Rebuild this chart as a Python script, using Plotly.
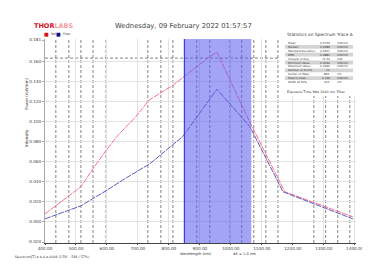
import plotly.graph_objects as go

# ---- data ----
ref_x = [400, 516, 555, 597, 635, 694, 735, 813, 926, 955, 1060, 1158, 1174, 1394]
ref_y = [0.008, 0.035, 0.053, 0.071, 0.086, 0.105, 0.121, 0.136, 0.163, 0.169, 0.100, 0.040, 0.030, 0.005]
filt_x = [400, 516, 597, 658, 739, 845, 955, 1061, 1152, 1168, 1394]
filt_y = [0.003, 0.016, 0.031, 0.043, 0.058, 0.085, 0.132, 0.095, 0.040, 0.030, 0.003]

x_ticks = [400, 500, 600, 700, 800, 900, 1000, 1100, 1200, 1300, 1400]
x_tick_labels = ["400.00", "500.00", "600.00", "700.00", "800.00", "900.00",
                 "1000.00", "1100.00", "1200.00", "1300.00", "1400.00"]
y_ticks = [-0.02, 0.0, 0.02, 0.04, 0.06, 0.08, 0.10, 0.12, 0.14, 0.16, 0.181]
y_tick_labels = ["-0.020", "0.000", "0.020", "0.040", "0.060", "0.080",
                 "0.100", "0.120", "0.140", "0.160", "0.181"]

marker_x_dark = [435, 477, 516, 555, 597, 732, 774, 813, 890, 932, 997, 1035,
                 1074, 1113, 1152, 1268, 1306, 1345, 1384]
marker_y_dark = [0.163, 0.080]
band = [850, 1066]

stat_names = ["Mean", "Median", "Standard Deviation", "RMS", "Integral of Avg",
              "Minimum Value", "Maximum Value", "Number of Points", "Center of Mass",
              "Peak to Peak", "Width at 50%"]
stat_values = ["0.0723", "0.0586", "0.0527", "0.0881", "72.31", "0.0030",
               "0.1690", "14", "862", "0.166", "410"]
stat_units = ["mW/nm", "mW/nm", "mW/nm", "mW/nm", "mW", "mW/nm", "mW/nm",
              "", "nm", "mW/nm", "nm"]

fig = go.Figure()

fig.add_trace(go.Scatter(x=ref_x, y=ref_y, mode="lines", name="Ref",
                         line=dict(color="#ff6f86", width=1, dash="6px,1px")))
fig.add_trace(go.Scatter(x=filt_x, y=filt_y, mode="lines", name="Filter",
                         line=dict(color="#5c5cc4", width=1, dash="6px,1px")))

shapes = []
shapes.append(dict(type="rect", xref="x", yref="paper", x0=band[0], x1=band[1], y0=0, y1=1,
                   fillcolor="rgba(90,90,240,0.55)", line=dict(width=0), layer="above"))
shapes.append(dict(type="line", xref="x", yref="paper", x0=band[0], x1=band[0], y0=0, y1=1,
                   line=dict(color="#3c3cd8", width=1.2), layer="above"))
for xv in marker_x_dark:
    shapes.append(dict(type="line", xref="x", yref="paper", x0=xv, x1=xv, y0=0, y1=1,
                       line=dict(color="rgba(60,60,60,0.8)", width=0.8, dash="3px,2px"),
                       layer="below"))
for yv in marker_y_dark:
    shapes.append(dict(type="line", xref="paper", yref="y", x0=0, x1=1, y0=yv, y1=yv,
                       line=dict(color="rgba(60,60,60,0.8)", width=0.8, dash="3px,2px"),
                       layer="below"))

# stats panel (white box over upper right)
shapes.append(dict(type="rect", xref="paper", yref="paper",
                   x0=(272 - 37) / 311, x1=(350 - 37) / 311,
                   y0=(235 - 88) / 204, y1=(235 - 22) / 204,
                   fillcolor="white", line=dict(width=0), layer="above"))
annotations = []
row_y0 = 35
row_dy = 3.9
for i, (n, v, u) in enumerate(zip(stat_names, stat_values, stat_units)):
    ypx = row_y0 + i * row_dy
    if i % 2 == 1:
        shapes.append(dict(type="rect", xref="paper", yref="paper",
                           x0=(277 - 37) / 311, x1=(345 - 37) / 311,
                           y0=(235 - ypx - 1.9) / 204, y1=(235 - ypx + 1.9) / 204,
                           fillcolor="#d4d4d4", line=dict(width=0), layer="above"))
    yp = (235 - ypx) / 204
    annotations.append(dict(text=n, xref="paper", yref="paper", x=(278 - 37) / 311, y=yp,
                            xanchor="left", yanchor="middle", showarrow=False,
                            font=dict(size=2.8, color="#333")))
    annotations.append(dict(text=v, xref="paper", yref="paper", x=(324 - 37) / 311, y=yp,
                            xanchor="right", yanchor="middle", showarrow=False,
                            font=dict(size=2.8, color="#333")))
    annotations.append(dict(text=u, xref="paper", yref="paper", x=(327 - 37) / 311, y=yp,
                            xanchor="left", yanchor="middle", showarrow=False,
                            font=dict(size=2.8, color="#333")))

def px_ann(text, x, y, size, color="#333", xanchor="center", **kw):
    annotations.append(dict(text=text, xref="paper", yref="paper",
                            x=(x - 37) / 311, y=(235 - y) / 204,
                            xanchor=xanchor, yanchor="middle", showarrow=False,
                            font=dict(size=size, color=color, family="DejaVu Sans"), **kw))

px_ann("Statistics on Spectrum Trace A", 277, 26, 4.3, xanchor="left")
px_ann("Exposure Time Was 1000 ms  Filter", 277, 84, 3.3, xanchor="left")
px_ann("Wednesday, 09 February 2022 01:57:57", 175, 18, 6.8, color="#444")
px_ann("<b>THOR</b><span style='color:#f4a0a0'><b>LABS</b></span>", 24, 18, 6.5,
       color="#d0101c", xanchor="left")
px_ann("■", 38, 26, 5, color="#d0101c")
px_ann("Ref", 41, 26, 3, xanchor="left")
px_ann("■", 50, 26, 5, color="#10108c")
px_ann("Filter", 53, 26, 3, xanchor="left")
px_ann("Power (mW/nm)", 18, 86, 4, textangle=-90)
px_ann("Intensity", 18, 130, 4, textangle=-90)
px_ann("Wavelength (nm)", 188, 246, 3.6)
px_ann("dX = 1.0 nm", 236, 246, 3.6)
px_ann("Spectrum[T] a b.d a 0004 (1'59' - 548 / 57%)", 5, 249, 3.3, xanchor="left")

fig.update_layout(
    width=370, height=269,
    margin=dict(l=37, r=22, t=31, b=34),
    paper_bgcolor="white", plot_bgcolor="white",
    showlegend=False,
    shapes=shapes, annotations=annotations,
    font=dict(family="DejaVu Sans", color="#444"),
    xaxis=dict(range=[400, 1404], tickvals=x_ticks, ticktext=x_tick_labels,
               tickfont=dict(size=4.2, color="#444"), showgrid=True,
               gridcolor="#e2e2e2", gridwidth=0.6, zeroline=False,
               showline=True, linecolor="#444", linewidth=1,
               ticks="outside", ticklen=1, tickcolor="#444", ticklabelstandoff=0),
    yaxis=dict(range=[-0.021, 0.182], tickvals=y_ticks, ticktext=y_tick_labels,
               tickfont=dict(size=4.2, color="#444"), showgrid=True,
               gridcolor="#e2e2e2", gridwidth=0.6, zeroline=False,
               showline=True, linecolor="#aaa", linewidth=1,
               ticks="outside", ticklen=2, tickcolor="#aaa"),
)

fig.write_html("out.html")
